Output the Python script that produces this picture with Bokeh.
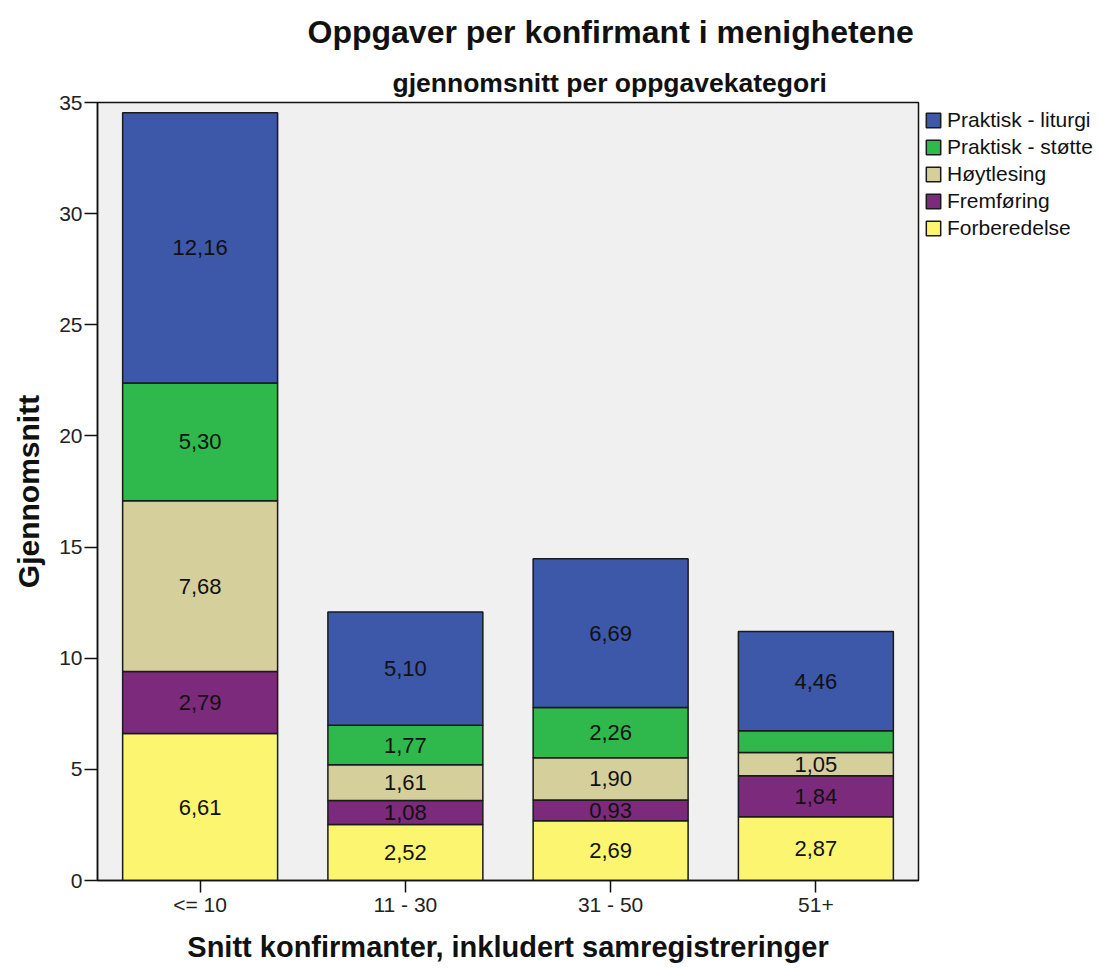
from bokeh.plotting import figure
from bokeh.models import (ColumnDataSource, FactorRange, Range1d, Legend, LegendItem,
                          Title, FixedTicker)
from bokeh.embed import file_html
from bokeh.resources import INLINE
from bokeh.core.properties import value

# ---------------- data ----------------
categories = ["<= 10", "11 - 30", "31 - 50", "51+"]
series = ["Forberedelse", "Fremføring", "Høytlesing", "Praktisk - støtte", "Praktisk - liturgi"]
forberedelse = [6.61, 2.52, 2.69, 2.87]
fremforing = [2.79, 1.08, 0.93, 1.84]
hoytlesing = [7.68, 1.61, 1.90, 1.05]
praktisk_stotte = [5.30, 1.77, 2.26, 0.98]
praktisk_liturgi = [12.16, 5.10, 6.69, 4.46]
y_ticks = [0, 5, 10, 15, 20, 25, 30, 35]
unlabeled = [("51+", "Praktisk - støtte")]

title_text = "Oppgaver per konfirmant i menighetene"
subtitle_text = "gjennomsnitt per oppgavekategori"
x_label = "Snitt konfirmanter, inkludert samregistreringer"
y_label = "Gjennomsnitt"

colors = ["#fbf56f", "#7c2a7b", "#d5cf9b", "#2fb84b", "#3d57a9"]
FONT = "Liberation Sans"

values = [forberedelse, fremforing, hoytlesing, praktisk_stotte, praktisk_liturgi]
data = {"cat": categories}
for name, vals in zip(series, values):
    data[name] = vals
source = ColumnDataSource(data)

lx, ly, lt = [], [], []
for i, cat in enumerate(categories):
    base = 0.0
    for name, vals in zip(series, values):
        v = vals[i]
        if (cat, name) not in unlabeled:
            lx.append(cat)
            ly.append(base + v / 2.0)
            lt.append(f"{v:.2f}".replace(".", ","))
        base += v
label_source = ColumnDataSource({"x": lx, "y": ly, "text": lt})

# ---------------- figure ----------------
p = figure(x_range=FactorRange(*categories, range_padding=0), y_range=Range1d(0, 35),
           frame_width=821, frame_height=778, output_backend="svg", toolbar_location=None,
           min_border_left=97, min_border_right=181, min_border_top=102, min_border_bottom=88,
           background_fill_color="#f0f0f0", border_fill_color="white")
p.outline_line_color = "#111111"
p.outline_line_width = 1.5
p.xgrid.visible = False
p.ygrid.visible = False

renderers = p.vbar_stack(series, x="cat", width=0.755, color=colors, source=source,
                         line_color="#1a1a1a", line_width=1.5)

p.text(x="x", y="y", text="text", source=label_source,
       text_font=value(FONT), text_font_size=value("22px"),
       text_align="center", text_baseline="middle", text_color="#111111")

for ax in (p.xaxis[0], p.yaxis[0]):
    ax.axis_line_color = "#111111"
    ax.axis_line_width = 1.5
    ax.major_tick_line_color = "#111111"
    ax.major_tick_line_width = 1.5
    ax.major_tick_in = 0
    ax.minor_tick_line_color = None
    ax.major_label_text_font = FONT
    ax.major_label_text_font_size = "21px"
    ax.major_label_text_color = "#222222"
    ax.axis_label_text_font = FONT
    ax.axis_label_text_font_style = "bold"
    ax.axis_label_text_color = "#111111"

p.yaxis.ticker = FixedTicker(ticks=y_ticks)
p.yaxis.major_tick_out = 13
p.yaxis.major_label_standoff = 2
p.yaxis.axis_label = y_label
p.yaxis.axis_label_text_font_size = "30px"
p.yaxis.axis_label_standoff = 11

p.xaxis.major_tick_out = 12
p.xaxis.major_label_standoff = 0
p.xaxis.axis_label = x_label
p.xaxis.axis_label_text_font_size = "29px"
p.xaxis.axis_label_standoff = 12

items = [LegendItem(label=name, renderers=[r]) for name, r in zip(series, renderers)]
items = items[::-1]
legend = Legend(items=items, location="top_left", border_line_color=None,
                background_fill_alpha=0, margin=6, padding=0,
                glyph_width=18, glyph_height=18, label_standoff=5, spacing=3,
                label_height=18, label_text_font=FONT, label_text_font_size="21px",
                label_text_color="#111111")
p.add_layout(legend, "right")

# titles (subtitle closest to the frame)
p.add_layout(Title(text=subtitle_text, align="left", offset=295, text_font=FONT,
                   text_font_size="26.5px", text_font_style="bold", text_color="#111111",
                   standoff=10), "above")
p.add_layout(Title(text=title_text, align="left", offset=210, text_font=FONT,
                   text_font_size="32px", text_font_style="bold", text_color="#111111",
                   standoff=22), "above")

open("out.html", "w").write(file_html(p, INLINE))
